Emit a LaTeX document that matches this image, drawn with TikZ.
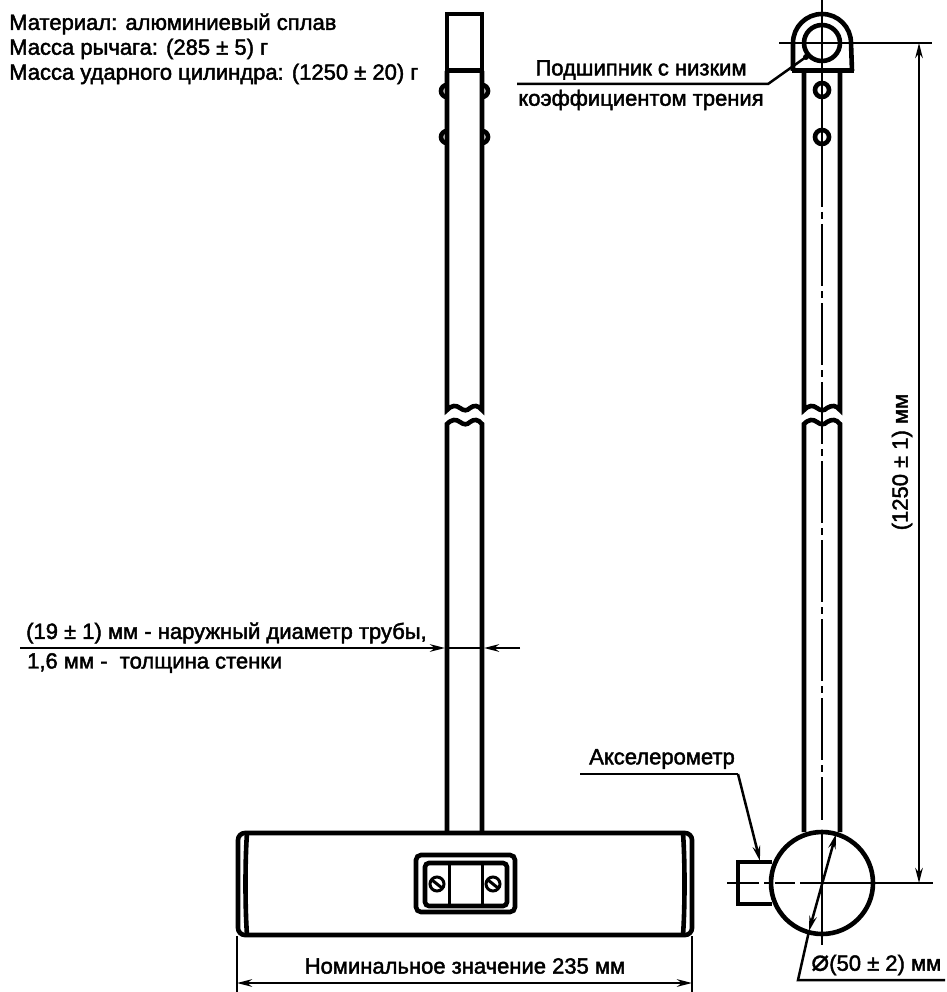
\documentclass[tikz,border=0pt]{standalone}
\usepackage{fontspec}
\setmainfont[RawFeature={embolden=2}]{Liberation Sans}
\newfontfamily\diamfont[RawFeature={embolden=0.6}]{DejaVu Sans}
\usetikzlibrary{arrows.meta}
\tikzset{
	wall/.style={line width=4.6pt},
	thin line/.style={line width=2.5pt},
	dim/.style={thin line, {Stealth[length=15pt,width=7.5pt]}-{Stealth[length=15pt,width=7.5pt]}},
	leader/.style={thin line, -{Stealth[length=15pt,width=7.5pt]}},
	axis line/.style={line width=2pt, dash pattern=on 62pt off 5pt on 7pt off 5pt},
	caption/.style={inner sep=0pt, font=\fontsize{22}{26}\selectfont},
}
\begin{document}
\begin{tikzpicture}[x=1pt, y=-1pt]
	\useasboundingbox (0, 0) rectangle (946, 992);

	% notes at the top left
	\node[caption, anchor=west] (material) at (9, 24) {Материал: алюминиевый сплав};
	\node[caption, anchor=west] (lever) at (9, 49) {Масса рычага: (285 ± 5) г};
	\node[caption, anchor=west] (cylinder) at (9, 74) {Масса ударного цилиндра: (1250 ± 20) г};

	% both tubes with the break
	\foreach \xa/\xb in {447/482, 804/840} {
			\draw[wall] (\xa, 71) -- (\xa, 410) .. controls (\xa+5, 405) and (\xa+9, 405) .. (\xa+13, 408) .. controls (\xa+17, 411) and (\xa+20, 411) .. (\xa+23, 408) .. controls (\xb-8, 405) and (\xb-4, 405) .. (\xb, 410) -- (\xb, 71);
			\draw[wall] (\xa, 832) -- (\xa, 424) .. controls (\xa+5, 419) and (\xa+9, 419) .. (\xa+13, 422) .. controls (\xa+17, 425) and (\xa+20, 425) .. (\xa+23, 422) .. controls (\xb-8, 419) and (\xb-4, 419) .. (\xb, 424) -- (\xb, 832);
		}

	% left view, top of the lever
	\draw[wall] (447, 71) -- (447, 14) -- (482, 14) -- (482, 71);
	\draw[wall, line width=5pt] (445, 71) -- (484, 71);
	\foreach \y in {91, 137} {
			\draw[wall] (447, \y-6) arc (270:90:6);
			\draw[wall] (482, \y-6) arc (-90:90:6);
		}

	% head of the lever
	\draw[wall, rounded corners=7pt] (238, 833) rectangle (692, 935);
	\draw[wall] (247, 833) .. controls (245, 860) and (245, 908) .. (247, 935);
	\draw[wall] (683, 833) .. controls (685, 860) and (685, 908) .. (683, 935);
	\draw[wall, rounded corners=5pt] (416, 855) rectangle (515, 912);
	\draw[wall, rounded corners=4pt] (425, 863) rectangle (507, 906);
	\draw[wall, line width=3pt] (449, 863) -- (449, 906) (482, 863) -- (482, 906);
	\foreach \x in {437, 493} {
			\draw[wall, line width=3pt] (\x, 884) circle (7);
			\draw[wall, line width=3pt] (\x-5, 880) -- (\x+5, 888);
		}

	% width of the head
	\coordinate (head left top) at (237, 936);
	\coordinate (head left end) at (237, 992);
	\coordinate (head right top) at (692, 936);
	\coordinate (head right end) at (692, 992);
	\coordinate (head left dim) at (237, 983);
	\coordinate (head right dim) at (692, 983);
	\draw[thin line] (head left top) -- (head left end);
	\draw[thin line] (head right top) -- (head right end);
	\draw[dim] (head left dim) -- (head right dim);
	\node[caption] (width label) at (465, 966) {Номинальное значение 235 мм};

	% diameter of the tube
	\node[caption, anchor=west] (tube label) at (26, 633) {(19 ± 1) мм - наружный диаметр трубы,};
	\node[caption, anchor=west] (wall label) at (27, 663) {1,6 мм -\ \ толщина стенки};
	\coordinate (tube left start) at (20, 648);
	\coordinate (tube left tip) at (445, 648);
	\coordinate (tube right start) at (520, 648);
	\coordinate (tube right tip) at (484, 648);
	\draw[leader] (tube left start) -- (tube left tip);
	\draw[leader] (tube right start) -- (tube right tip);
	\draw[thin line] (tube left tip) -- (tube right tip);

	% right view, bearing
	\draw[wall] (793, 71) -- (793, 43) arc (180:360:29) -- (852, 71);
	\draw[wall, line width=5pt] (792, 71) -- (854, 71);
	\draw[wall] (822, 43) circle (18);
	\foreach \y in {90, 137} {
			\draw[wall] (822, \y) circle (7);
		}

	% centre lines of the right view
	\coordinate (axis top) at (822, 0);
	\coordinate (axis hole) at (822, 145);
	\coordinate (axis bottom) at (822, 945);
	\draw[thin line, line width=2pt] (axis top) -- (axis hole);
	\draw[axis line] (axis hole) -- (822, 820);
	\draw[thin line, line width=2pt] (822, 830) -- (axis bottom);

	% striker
	\draw[wall] (822, 883) circle (51);
	\draw[wall] (772, 862) -- (738, 862) -- (738, 904) -- (772, 904);

	% overall length
	\coordinate (top line start) at (779, 43);
	\coordinate (top line end) at (932, 43);
	\coordinate (bottom line start) at (727, 883);
	\coordinate (bottom dash end) at (795, 883);
	\coordinate (bottom line mid) at (800, 883);
	\coordinate (bottom line end) at (933, 883);
	\coordinate (length top) at (919, 43);
	\coordinate (length bottom) at (919, 883);
	\draw[thin line] (top line start) -- (top line end);
	\draw[thin line, line width=2pt, dash pattern=on 32pt off 5pt on 6pt off 5pt on 20pt] (bottom line start) -- (bottom dash end);
	\draw[thin line] (bottom line mid) -- (bottom line end);
	\draw[dim] (length top) -- (length bottom);
	\node[caption, rotate=90] (length label) at (902, 462) {(1250 ± 1) мм};

	% bearing callout
	\node[caption] (bearing label) at (641, 70) {Подшипник с низким};
	\node[caption] (bearing label two) at (641, 100) {коэффициентом трения};
	\coordinate (bearing start) at (517, 84);
	\coordinate (bearing knee) at (768, 84);
	\coordinate (bearing dot) at (806, 57);
	\draw[thin line] (bearing start) -- (bearing knee) -- (bearing dot);
	\fill (bearing dot) circle (3);

	% accelerometer callout
	\node[caption] (sensor label) at (662, 759) {Акселерометр};
	\coordinate (sensor start) at (580, 774);
	\coordinate (sensor knee) at (738, 774);
	\coordinate (sensor tip) at (760, 861);
	\draw[thin line] (sensor start) -- (sensor knee);
	\draw[leader] (sensor knee) -- (sensor tip);

	% diameter of the striker
	\coordinate (diam top) at (836, 834);
	\coordinate (diam low) at (809, 931);
	\coordinate (diam foot) at (798, 980);
	\coordinate (diam end) at (945, 980);
	\draw[dim] (diam top) -- (diam low);
	\draw[thin line] (diam low) -- (diam foot) -- (diam end);
	\node[caption, anchor=west] (diam label) at (811, 965) {{\diamfont\fontsize{30}{30}\selectfont ⌀}(50 ± 2) мм};
\end{tikzpicture}
\end{document}
